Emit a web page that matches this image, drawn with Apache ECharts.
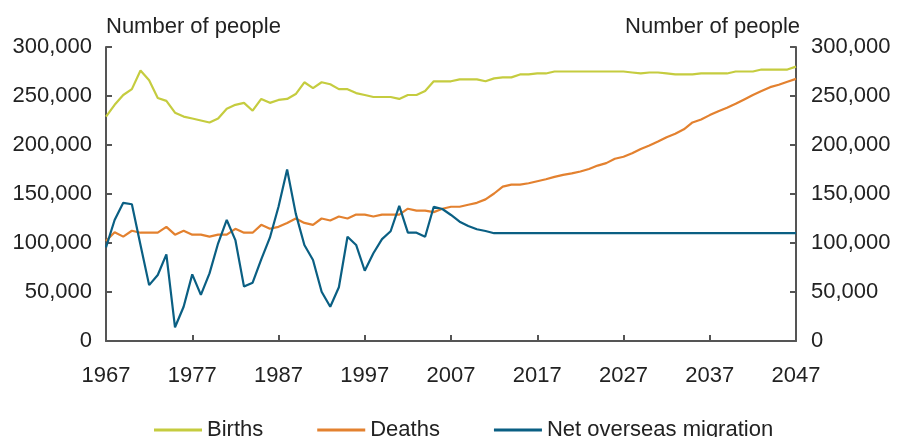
<!DOCTYPE html>
<html>
<head>
<meta charset="utf-8">
<script src="https://cdn.jsdelivr.net/npm/echarts@6/dist/echarts.min.js"></script>
<style>html,body{margin:0;padding:0;background:#fff}#c{width:902px;height:437px}</style>
</head>
<body>
<div id="c"></div>
<script>
var firstYear = 1967, lastYear = 2047;
var years = [];
for (var y = firstYear; y <= lastYear; y++) years.push(String(y));

var births = [
  229000, 241000, 251000, 257000, 276000, 266000, 248000, 245000, 233000, 229000,
  227000, 225000, 223000, 227000, 237000, 241000, 243000, 235000, 247000, 243000,
  246000, 247000, 252000, 264000, 258000, 264000, 262000, 257000, 257000, 253000,
  251000, 249000, 249000, 249000, 247000, 251000, 251000, 255000, 265000, 265000,
  265000, 267000, 267000, 267000, 265000, 268000, 269000, 269000, 272000, 272000,
  273000, 273000, 275000, 275000, 275000, 275000, 275000, 275000, 275000, 275000,
  275000, 274000, 273000, 274000, 274000, 273000, 272000, 272000, 272000, 273000,
  273000, 273000, 273000, 275000, 275000, 275000, 277000, 277000, 277000, 277000,
  280000
];

var deaths = [
  102000, 111000, 106500, 112500, 110500, 110500, 110500, 116500, 108500, 112500,
  108500, 108500, 106500, 108500, 108500, 114500, 110500, 110500, 118500, 114500,
  116500, 120500, 125000, 120500, 118500, 125000, 123000, 127000, 125000, 129000,
  129000, 127000, 129000, 129000, 129000, 135000, 133000, 133000, 131500, 135000,
  137000, 137000, 139000, 141000, 144500, 150500, 157500, 159500, 159500, 161000,
  163000, 165000, 167500, 169500, 171000, 173000, 175500, 179000, 181500, 186000,
  188000, 191500, 196000, 199500, 203500, 208000, 211500, 216000, 223000, 226000,
  230500, 234500, 238000, 242000, 246500, 251000, 255000, 259000, 261500, 264500,
  267500
];

var migration = [
  95600, 123500, 141000, 139500, 98000, 57000, 67300, 88400, 14000, 35000,
  68000, 47000, 69000, 99700, 123500, 103000, 55500, 59500, 83300, 105400,
  137000, 175000, 130000, 98000, 82700, 50300, 35000, 54800, 106400, 98000,
  71700, 89500, 104000, 112000, 137800, 110500, 110500, 106400, 137000, 134700,
  128600, 121700, 117300, 114000, 112200, 110000, 110000, 110000, 110000, 110000,
  110000, 110000, 110000, 110000, 110000, 110000, 110000, 110000, 110000, 110000,
  110000, 110000, 110000, 110000, 110000, 110000, 110000, 110000, 110000, 110000,
  110000, 110000, 110000, 110000, 110000, 110000, 110000, 110000, 110000, 110000,
  110000
];

var seriesNames = ['Births', 'Deaths', 'Net overseas migration'];
var axisTitle = 'Number of people';

var FONT = '"Liberation Sans", Arial, sans-serif';
var TXT = '#222';
var AX = '#555';
var FS = 22;

function yAxisDef(pos) {
  return {
    type: 'value', position: pos, min: 0, max: 300000, interval: 50000,
    name: axisTitle, nameLocation: 'end', nameGap: 9,
    nameTextStyle: { color: TXT, fontSize: FS, fontFamily: FONT, align: pos === 'left' ? 'left' : 'right',
      padding: pos === 'left' ? [0, 0, 0, 0] : [0, -4, 0, 0] },
    axisLine: { show: true, lineStyle: { color: AX, width: 2 } },
    axisTick: { show: true, inside: true, length: 6, lineStyle: { color: AX, width: 2 } },
    axisLabel: { color: TXT, fontSize: FS, fontFamily: FONT, margin: pos === 'left' ? 14 : 15,
      formatter: function (v) { return v.toLocaleString('en-US'); } },
    splitLine: { show: false }
  };
}

var chart = echarts.init(document.getElementById('c'));
chart.setOption({
  animation: false,
  backgroundColor: '#fff',
  grid: { left: 106, right: 106, top: 47, bottom: 96, containLabel: false },
  legend: {
    data: seriesNames, top: 414, left: 149, icon: 'rect', itemWidth: 48, itemHeight: 3, itemGap: 54,
    textStyle: { color: TXT, fontSize: FS, fontFamily: FONT, padding: [0, 0, 0, 0] }
  },
  xAxis: {
    type: 'category', data: years, boundaryGap: false,
    axisLine: { show: true, lineStyle: { color: AX, width: 2 } },
    axisTick: { show: true, inside: true, length: 6, interval: 9, lineStyle: { color: AX, width: 2 } },
    axisLabel: { color: TXT, fontSize: FS, fontFamily: FONT, interval: 9, margin: 24 },
    splitLine: { show: false }
  },
  yAxis: [yAxisDef('left'), yAxisDef('right')],
  series: [
    { name: seriesNames[0], type: 'line', data: births, symbol: 'none', lineStyle: { color: '#c5cc3f', width: 2.2 }, itemStyle: { color: '#c5cc3f' } },
    { name: seriesNames[1], type: 'line', data: deaths, symbol: 'none', lineStyle: { color: '#e3812f', width: 2.2 }, itemStyle: { color: '#e3812f' } },
    { name: seriesNames[2], type: 'line', data: migration, symbol: 'none', lineStyle: { color: '#0a5f83', width: 2.2 }, itemStyle: { color: '#0a5f83' } }
  ]
});
</script>
</body>
</html>
